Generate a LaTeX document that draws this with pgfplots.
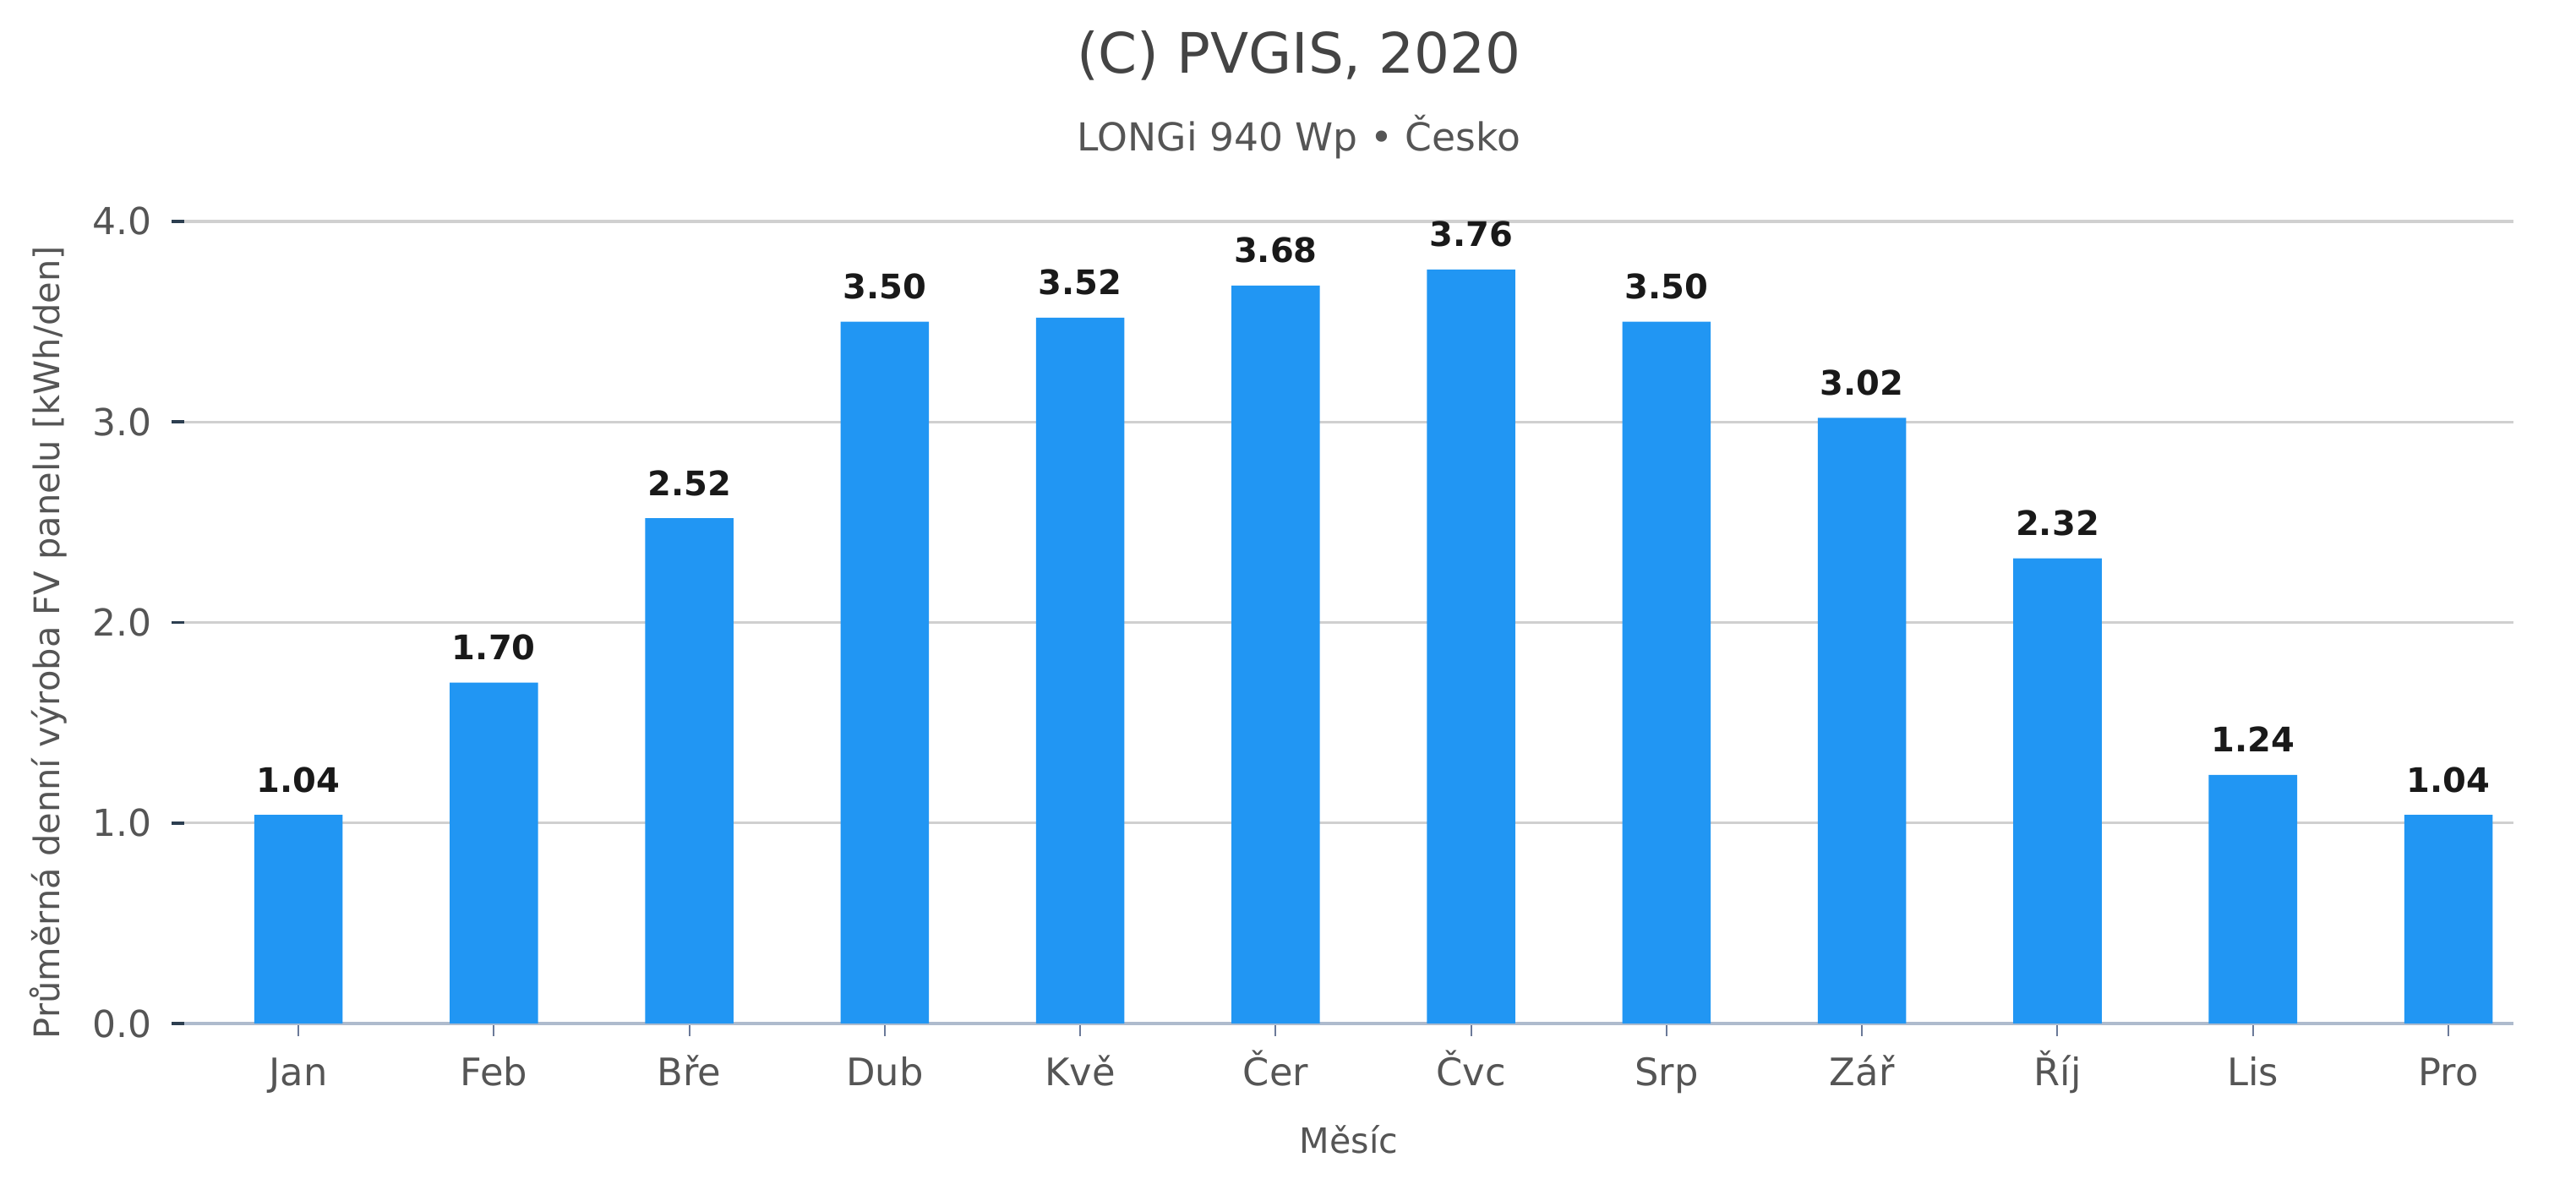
\documentclass[border=0pt]{standalone}
\usepackage{fontspec}
\setmainfont{DejaVu Sans}
\usepackage{pgfplots}
\pgfplotsset{compat=1.18}
\definecolor{barblue}{HTML}{2196F3}
\definecolor{gridgray}{HTML}{D0D0D0}
\definecolor{axisline}{HTML}{AEBBCD}
\definecolor{ytickc}{HTML}{2C3E50}
\definecolor{xtickc}{HTML}{6B7A99}
\definecolor{labgray}{HTML}{555555}
\definecolor{titlegray}{HTML}{444444}
\begin{document}
\begin{tikzpicture}
\path[use as bounding box] (0,0) rectangle (762pt,352pt);
\node[anchor=base, text=titlegray, inner sep=0pt] at (384.25pt,330.25pt) {\fontsize{16.5}{20}\selectfont (C) PVGIS, 2020};
\node[anchor=base, text=labgray, inner sep=0pt] at (384.25pt,307.25pt) {\fontsize{11.4}{14}\selectfont LONGi 940 Wp • Česko};
\begin{axis}[
  at={(54.5pt,49.25pt)}, anchor=south west,
  width=689pt, height=237.25pt, scale only axis,
  xmin=-0.584, xmax=11.333, ymin=0, ymax=4,
  clip=false,
  axis lines*=left,
  y axis line style={draw=none},
  x axis line style={draw=axisline, line width=0.9pt},
  ytick={0,1,2,3,4},
  xtick={0,...,11},
  xticklabels={Jan,Feb,Bře,Dub,Kvě,Čer,Čvc,Srp,Zář,Říj,Lis,Pro},
  tick align=outside,
  major tick length=3.75pt,
  ytick style={draw=ytickc, line width=0.9pt},
  xtick style={draw=xtickc, line width=0.5pt},
  ymajorgrids,
  major grid style={draw=gridgray, line width=0.8pt},
  yticklabel style={/pgf/number format/fixed, /pgf/number format/fixed zerofill, /pgf/number format/precision=1, /pgf/number format/assume math mode=true},
  yticklabel style={font=\fontsize{11}{13}\selectfont, text=labgray, anchor=east, inner sep=0pt, xshift=-5.75pt},
  xticklabel style={font=\fontsize{11.2}{13}\selectfont, text=labgray, anchor=base, inner sep=0pt, yshift=-14.75pt},
  every axis x label/.style={at={(axis description cs:0.5,0)}, anchor=base, yshift=-38.5pt, font=\fontsize{10.3}{12}\selectfont, text=labgray},
  every axis y label/.style={at={(axis description cs:-0.0585,0.475)}, rotate=90, anchor=center, font=\fontsize{10.4}{12}\selectfont, text=labgray},
  xlabel={Měsíc},
  ylabel={Průměrná denní výroba FV panelu [kWh/den]},
  ybar, bar width=0.452,
  nodes near coords={\pgfmathprintnumber[fixed, fixed zerofill, precision=2, assume math mode=true]{\pgfplotspointmeta}},
  every node near coord/.append style={anchor=base, yshift=6.75pt, inner sep=0pt, font=\fontsize{10}{12}\selectfont\bfseries, text=black!90},
]
\addplot[fill=barblue, draw=none] coordinates {
(0,1.04) (1,1.70) (2,2.52) (3,3.50) (4,3.52) (5,3.68) (6,3.76) (7,3.50) (8,3.02) (9,2.32) (10,1.24) (11,1.04)
};
\end{axis}
\end{tikzpicture}
\end{document}
